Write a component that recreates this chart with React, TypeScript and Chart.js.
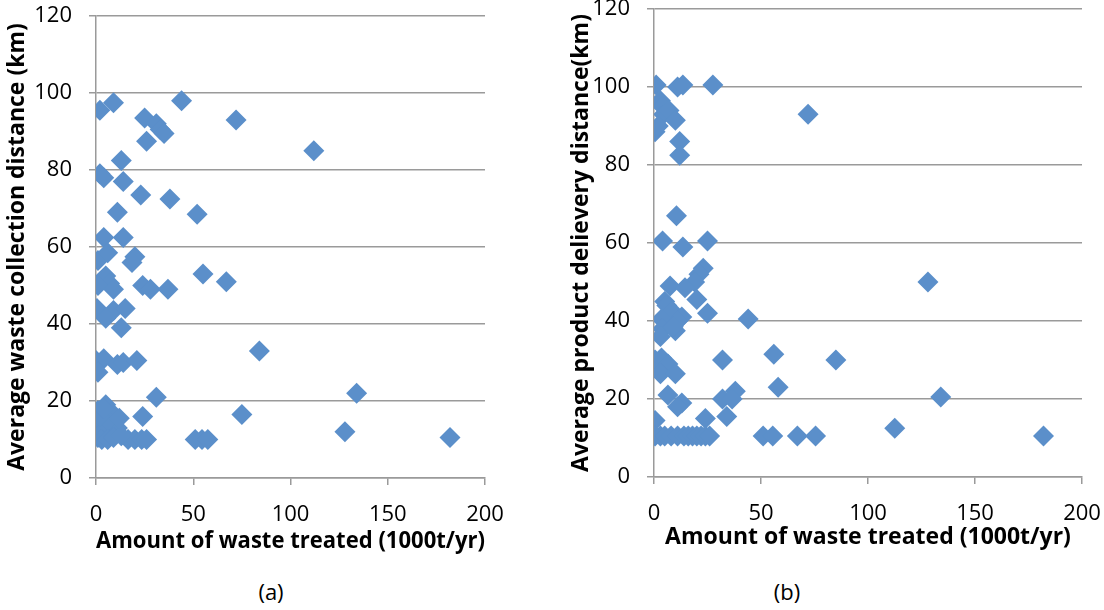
import React, { useEffect, useRef } from "react";
import { Chart, registerables } from "chart.js";

Chart.register(...registerables);

// (a) waste collection distance vs amount treated
const aAmount = [2, 9, 44, 25, 31, 33, 35, 72, 112, 26, 13, 2, 4, 14, 23, 38, 11, 52, 4, 14, 1, 6, 20, 18.5, 55, 5, 7, 1, 9, 24, 28, 37, 67, 0.5, 9, 15, 5, 13, 0, 4, 11, 14, 21, 1, 31, 84, 134, 128, 182, 75, 24, 1, 5, 0, 1, 8, 11, 3, 6, 16.5, 20, 23.5, 26, 51, 54.5, 57.5, 3, 6, 9, 13, 12, 2, 4];
const aDistance = [95.5, 97.5, 98, 93.5, 92, 90.5, 89.5, 93, 85, 87.5, 82.5, 79, 78, 77, 73.5, 72.5, 69, 68.5, 62.5, 62.5, 56.5, 58.5, 57.5, 56, 53, 52.5, 50.5, 50, 49, 50, 49, 49, 51, 44, 43.5, 44, 41.5, 39, 30.5, 31, 29.5, 30, 30.5, 27.5, 21, 33, 22, 12, 10.5, 16.5, 16, 17.5, 19, 14, 10.5, 17, 13, 12, 15, 10, 10, 10, 10, 10, 10, 10, 10, 10, 10.5, 11, 15.5, 16, 18];

// (b) product delivery distance vs amount treated
const bAmount = [1, 11, 13.5, 27.5, 72, 3, 4, 4.5, 7, 10, 0.5, 2, 12, 12, 10.5, 4, 13.5, 25, 23, 21, 19, 7.5, 14.5, 20, 25, 44, 5, 6, 8.5, 13, 11, 3.5, 4, 3, 10, 9, 0.5, 3.5, 6.5, 32, 3, 10, 6.5, 13, 11, 32, 38, 36.5, 34, 24, 0.5, 0.5, 3, 5, 8, 11, 14, 16, 18, 20, 22, 24, 26, 51, 55.5, 67, 75.5, 56, 85, 58, 134, 112.5, 182, 128];
const bDistance = [100.5, 100, 100.5, 100.5, 93, 96.5, 95, 93, 94, 91.5, 88.5, 90, 86, 82.5, 67, 60.5, 59, 60.5, 53.5, 52, 50, 49, 48.5, 45.5, 42, 40.5, 45, 44, 42.5, 41, 40, 40.5, 38, 36, 37.5, 38.5, 30, 30.5, 29, 30, 26.5, 26.5, 21, 19, 18, 20, 22, 20, 15.5, 15, 14.5, 10.5, 10.5, 10.5, 10.5, 10.5, 10.5, 10.5, 10.5, 10.5, 10.5, 10.5, 10.5, 10.5, 10.5, 10.5, 10.5, 31.5, 30, 23, 20.5, 12.5, 10.5, 50];

const xTicks = [0, 50, 100, 150, 200];
const yTicks = [0, 20, 40, 60, 80, 100, 120];
const xTitle = "Amount of waste treated (1000t/yr)";
const aYTitle = "Average waste collection distance (km)";
const bYTitle = "Average product delievery distance(km)";

const FONT = "'Open Sans', Lato, sans-serif";
const GRID = "#9a9a9a";
const MARK = "#5b8fca";

type Cfg = {
  xs: number[];
  ys: number[];
  yTitle: string;
  yWidth: number;
  xHeight: number;
  padTop: number;
  padRight: number;
  yTitlePad: number;
  xTitlePad: number;
};

function makeChart(canvas: HTMLCanvasElement, c: Cfg) {
  const pts = c.xs.map((x, i) => ({ x, y: c.ys[i] }));
  return new Chart(canvas, {
    type: "scatter",
    data: {
      datasets: [
        {
          data: pts,
          pointStyle: "rectRot",
          pointRadius: 10.5,
          pointBackgroundColor: MARK,
          pointBorderColor: MARK,
          pointBorderWidth: 0,
        },
      ],
    },
    options: {
      responsive: false,
      animation: false,
      layout: { padding: { top: c.padTop, right: c.padRight, bottom: 0, left: 0 } },
      plugins: { legend: { display: false }, tooltip: { enabled: false } },
      scales: {
        x: {
          type: "linear",
          min: 0,
          max: 200,
          afterBuildTicks: (s: any) => {
            s.ticks = xTicks.map((v) => ({ value: v }));
          },
          afterFit: (s: any) => {
            s.height = c.xHeight;
          },
          grid: {
            drawOnChartArea: false,
            drawTicks: true,
            tickLength: 7,
            color: GRID,
            lineWidth: 1.5,
          },
          border: { color: GRID, width: 1.5 },
          ticks: { color: "#000", font: { family: FONT, size: 22 }, padding: 17 },
          title: {
            display: true,
            text: xTitle,
            color: "#000",
            font: { family: FONT, size: 23, weight: "bold" },
            padding: { top: 0, bottom: c.xTitlePad },
          },
        },
        y: {
          type: "linear",
          min: 0,
          max: 120,
          afterBuildTicks: (s: any) => {
            s.ticks = yTicks.map((v) => ({ value: v }));
          },
          afterFit: (s: any) => {
            s.width = c.yWidth;
          },
          grid: {
            drawOnChartArea: true,
            drawTicks: true,
            tickLength: 7,
            color: GRID,
            lineWidth: 1.5,
          },
          border: { color: GRID, width: 1.5 },
          ticks: { color: "#000", font: { family: FONT, size: 22 }, padding: 17 },
          title: {
            display: true,
            text: c.yTitle,
            color: "#000",
            font: { family: FONT, size: 23, weight: "bold" },
            padding: { top: c.yTitlePad, bottom: 0 },
          },
        },
      },
    },
  });
}

export default function App() {
  const aRef = useRef<HTMLCanvasElement>(null);
  const bRef = useRef<HTMLCanvasElement>(null);

  useEffect(() => {
    const ca = makeChart(aRef.current!, {
      xs: aAmount,
      ys: aDistance,
      yTitle: aYTitle,
      yWidth: 96,
      xHeight: 82,
      padTop: 32,
      padRight: 60,
      yTitlePad: 4,
      xTitlePad: 5,
    });
    const cb = makeChart(bRef.current!, {
      xs: bAmount,
      ys: bDistance,
      yTitle: bYTitle,
      yWidth: 94,
      xHeight: 78,
      padTop: 32,
      padRight: 58,
      yTitlePad: 8,
      xTitlePad: 4,
    });
    return () => {
      ca.destroy();
      cb.destroy();
    };
  }, []);

  const label: React.CSSProperties = {
    position: "absolute",
    top: 576,
    width: 60,
    textAlign: "center",
    fontFamily: FONT,
    fontSize: 22,
    color: "#000",
    lineHeight: "30px",
  };

  return (
    <div
      style={{
        position: "fixed",
        left: 0,
        top: 0,
        width: 1104,
        height: 610,
        background: "#fff",
        overflow: "hidden",
      }}
    >
      <canvas
        ref={aRef}
        width={545}
        height={576}
        style={{ position: "absolute", left: 0, top: -16 }}
      />
      <canvas
        ref={bRef}
        width={580}
        height={578}
        style={{ position: "absolute", left: 560, top: -23 }}
      />
      <div style={{ ...label, left: 271 - 30 }}>(a)</div>
      <div style={{ ...label, left: 787 - 30 }}>(b)</div>
    </div>
  );
}
